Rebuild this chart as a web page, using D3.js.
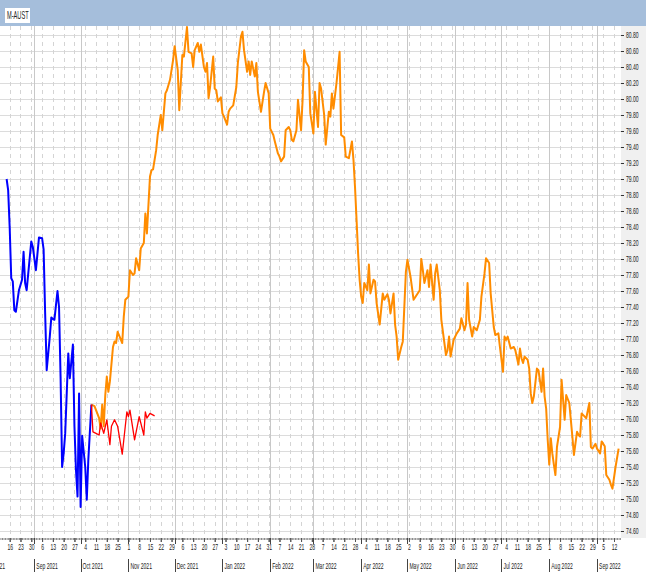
<!DOCTYPE html>
<html>
<head>
<meta charset="utf-8">
<script src="https://cdn.jsdelivr.net/npm/d3@7"></script>
<style>
body { margin: 0; background: #fff; }
svg text { font-family: "Liberation Sans", Arial, sans-serif; fill: #222; }
</style>
</head>
<body>
<script>
// Series: [date, value]
var title = "M-AUST";

var blueSeries = [
  ["2021-08-14", 79.00], ["2021-08-15", 78.86], ["2021-08-16", 78.39], ["2021-08-17", 77.76],
  ["2021-08-18", 77.72], ["2021-08-19", 77.36], ["2021-08-20", 77.34], ["2021-08-22", 77.61],
  ["2021-08-24", 77.74], ["2021-08-25", 78.09], ["2021-08-26", 77.70], ["2021-08-27", 77.61],
  ["2021-08-30", 78.22], ["2021-08-31", 78.15], ["2021-09-02", 77.86], ["2021-09-04", 78.27],
  ["2021-09-06", 78.26], ["2021-09-07", 78.12], ["2021-09-08", 77.32], ["2021-09-09", 76.61],
  ["2021-09-11", 77.03], ["2021-09-12", 77.27], ["2021-09-13", 77.25], ["2021-09-14", 77.24],
  ["2021-09-15", 77.42], ["2021-09-16", 77.60], ["2021-09-17", 77.40], ["2021-09-18", 76.53],
  ["2021-09-19", 75.40], ["2021-09-20", 75.57], ["2021-09-21", 75.82], ["2021-09-22", 76.32],
  ["2021-09-23", 76.82], ["2021-09-24", 76.51], ["2021-09-26", 76.93], ["2021-09-27", 75.91],
  ["2021-09-28", 75.36], ["2021-09-29", 75.03], ["2021-09-30", 76.32], ["2021-10-01", 74.90],
  ["2021-10-02", 75.79], ["2021-10-04", 75.40], ["2021-10-05", 74.99], ["2021-10-06", 75.49],
  ["2021-10-08", 76.18]
];

var redSeries = [
  ["2021-10-08", 76.18], ["2021-10-09", 75.84], ["2021-10-11", 75.82], ["2021-10-13", 75.80],
  ["2021-10-14", 75.95], ["2021-10-16", 75.82], ["2021-10-18", 75.99], ["2021-10-20", 75.68],
  ["2021-10-21", 75.91], ["2021-10-23", 75.99], ["2021-10-25", 75.91], ["2021-10-28", 75.56],
  ["2021-10-31", 76.09], ["2021-11-01", 76.03], ["2021-11-02", 76.11], ["2021-11-05", 75.74],
  ["2021-11-08", 76.03], ["2021-11-11", 75.80], ["2021-11-12", 76.09], ["2021-11-13", 76.01],
  ["2021-11-15", 76.07], ["2021-11-18", 76.04]
];

var orangeSeries = [
  ["2021-10-08", 76.18], ["2021-10-10", 76.16], ["2021-10-13", 76.01], ["2021-10-14", 75.88],
  ["2021-10-15", 76.18], ["2021-10-16", 75.91], ["2021-10-17", 76.30], ["2021-10-18", 76.53],
  ["2021-10-19", 76.34], ["2021-10-20", 76.47], ["2021-10-22", 76.90], ["2021-10-23", 76.97],
  ["2021-10-24", 76.95], ["2021-10-25", 77.09], ["2021-10-28", 76.95], ["2021-10-29", 77.28],
  ["2021-10-30", 77.49], ["2021-11-01", 77.53], ["2021-11-02", 77.86], ["2021-11-04", 77.80],
  ["2021-11-05", 77.82], ["2021-11-06", 78.01], ["2021-11-08", 77.86], ["2021-11-09", 78.13],
  ["2021-11-11", 78.20], ["2021-11-12", 78.57], ["2021-11-13", 78.32], ["2021-11-15", 79.03],
  ["2021-11-16", 79.11], ["2021-11-17", 79.12], ["2021-11-19", 79.36], ["2021-11-20", 79.55],
  ["2021-11-22", 79.80], ["2021-11-23", 79.61], ["2021-11-25", 80.07], ["2021-11-26", 80.11],
  ["2021-11-28", 80.24], ["2021-11-30", 80.49], ["2021-12-01", 80.66], ["2021-12-03", 80.36],
  ["2021-12-04", 79.86], ["2021-12-06", 80.55], ["2021-12-07", 80.53], ["2021-12-09", 80.90],
  ["2021-12-10", 80.59], ["2021-12-12", 80.57], ["2021-12-13", 80.40], ["2021-12-14", 80.61],
  ["2021-12-16", 80.70], ["2021-12-17", 80.59], ["2021-12-18", 80.68], ["2021-12-20", 80.40],
  ["2021-12-21", 80.34], ["2021-12-22", 80.45], ["2021-12-23", 80.01], ["2021-12-24", 80.15],
  ["2021-12-26", 80.53], ["2021-12-27", 80.13], ["2021-12-28", 80.11], ["2021-12-29", 79.97],
  ["2021-12-31", 80.02], ["2022-01-01", 79.82], ["2022-01-02", 79.78], ["2022-01-04", 79.68],
  ["2022-01-05", 79.84], ["2022-01-06", 79.88], ["2022-01-08", 79.92], ["2022-01-10", 80.15],
  ["2022-01-11", 80.45], ["2022-01-13", 80.78], ["2022-01-14", 80.84], ["2022-01-15", 80.61],
  ["2022-01-17", 80.34], ["2022-01-18", 80.47], ["2022-01-19", 80.30], ["2022-01-20", 80.47],
  ["2022-01-22", 80.28], ["2022-01-23", 80.45], ["2022-01-24", 80.09], ["2022-01-26", 79.84],
  ["2022-01-28", 80.09], ["2022-01-29", 80.20], ["2022-01-31", 80.07], ["2022-02-01", 79.63],
  ["2022-02-03", 79.55], ["2022-02-04", 79.47], ["2022-02-06", 79.32], ["2022-02-07", 79.28],
  ["2022-02-08", 79.22], ["2022-02-10", 79.28], ["2022-02-11", 79.61], ["2022-02-13", 79.65],
  ["2022-02-14", 79.61], ["2022-02-15", 79.49], ["2022-02-16", 79.47], ["2022-02-18", 79.61],
  ["2022-02-19", 79.99], ["2022-02-21", 79.61], ["2022-02-22", 79.99], ["2022-02-23", 80.61],
  ["2022-02-24", 80.47], ["2022-02-26", 80.40], ["2022-02-27", 79.82], ["2022-03-01", 79.57],
  ["2022-03-02", 80.09], ["2022-03-04", 79.65], ["2022-03-05", 80.20], ["2022-03-06", 80.13],
  ["2022-03-08", 79.80], ["2022-03-09", 79.43], ["2022-03-11", 79.84], ["2022-03-12", 79.78],
  ["2022-03-13", 80.07], ["2022-03-14", 79.88], ["2022-03-16", 80.20], ["2022-03-18", 80.59],
  ["2022-03-19", 79.55], ["2022-03-21", 79.52], ["2022-03-22", 79.28], ["2022-03-24", 79.26],
  ["2022-03-26", 79.47], ["2022-03-27", 79.24], ["2022-03-28", 78.90], ["2022-03-29", 78.49],
  ["2022-03-30", 78.07], ["2022-03-31", 77.74], ["2022-04-01", 77.53], ["2022-04-02", 77.45],
  ["2022-04-03", 77.70], ["2022-04-05", 77.61], ["2022-04-06", 77.93], ["2022-04-07", 77.57],
  ["2022-04-09", 77.74], ["2022-04-10", 77.72], ["2022-04-11", 77.45], ["2022-04-13", 77.18],
  ["2022-04-15", 77.57], ["2022-04-16", 77.49], ["2022-04-18", 77.56], ["2022-04-19", 77.49],
  ["2022-04-20", 77.32], ["2022-04-22", 77.57], ["2022-04-23", 77.18], ["2022-04-24", 77.03],
  ["2022-04-25", 76.74], ["2022-04-27", 76.90], ["2022-04-28", 76.97], ["2022-04-30", 77.84],
  ["2022-05-01", 77.99], ["2022-05-03", 77.78], ["2022-05-05", 77.49], ["2022-05-07", 77.55],
  ["2022-05-09", 77.61], ["2022-05-10", 78.00], ["2022-05-11", 77.86], ["2022-05-12", 77.70],
  ["2022-05-14", 77.86], ["2022-05-15", 77.65], ["2022-05-16", 77.93], ["2022-05-18", 77.49],
  ["2022-05-19", 77.82], ["2022-05-20", 77.93], ["2022-05-22", 77.61], ["2022-05-23", 77.24],
  ["2022-05-26", 76.80], ["2022-05-27", 76.86], ["2022-05-28", 77.03], ["2022-05-29", 76.78],
  ["2022-05-31", 76.99], ["2022-06-02", 77.07], ["2022-06-04", 77.13], ["2022-06-05", 77.26],
  ["2022-06-07", 77.11], ["2022-06-08", 77.18], ["2022-06-09", 77.70], ["2022-06-10", 77.24],
  ["2022-06-12", 77.03], ["2022-06-13", 77.15], ["2022-06-15", 77.11], ["2022-06-17", 77.24],
  ["2022-06-18", 77.53], ["2022-06-20", 77.82], ["2022-06-21", 78.01], ["2022-06-23", 77.95],
  ["2022-06-24", 77.57], ["2022-06-26", 77.15], ["2022-06-27", 77.05], ["2022-06-29", 77.07],
  ["2022-06-30", 76.90], ["2022-07-02", 76.59], ["2022-07-03", 77.03], ["2022-07-04", 76.99],
  ["2022-07-05", 77.03], ["2022-07-07", 76.88], ["2022-07-09", 76.90], ["2022-07-10", 76.86],
  ["2022-07-12", 76.68], ["2022-07-13", 76.88], ["2022-07-14", 76.76], ["2022-07-15", 76.70],
  ["2022-07-16", 76.78], ["2022-07-18", 76.74], ["2022-07-19", 76.63], ["2022-07-20", 76.32],
  ["2022-07-21", 76.20], ["2022-07-22", 76.28], ["2022-07-24", 76.63], ["2022-07-25", 76.61],
  ["2022-07-27", 76.34], ["2022-07-28", 76.63], ["2022-07-29", 76.28], ["2022-07-30", 76.13],
  ["2022-07-31", 75.74], ["2022-08-01", 75.43], ["2022-08-02", 75.76], ["2022-08-03", 75.57],
  ["2022-08-04", 75.43], ["2022-08-05", 75.30], ["2022-08-06", 75.65], ["2022-08-08", 75.90],
  ["2022-08-09", 76.49], ["2022-08-11", 75.99], ["2022-08-12", 76.30], ["2022-08-14", 76.20],
  ["2022-08-15", 75.99], ["2022-08-16", 75.78], ["2022-08-17", 75.55], ["2022-08-19", 75.84],
  ["2022-08-20", 75.80], ["2022-08-21", 75.78], ["2022-08-22", 76.07], ["2022-08-24", 76.03],
  ["2022-08-25", 76.01], ["2022-08-27", 76.20], ["2022-08-28", 75.65], ["2022-08-29", 75.63],
  ["2022-08-31", 75.69], ["2022-09-01", 75.63], ["2022-09-03", 75.57], ["2022-09-04", 75.72],
  ["2022-09-06", 75.66], ["2022-09-07", 75.30], ["2022-09-09", 75.24], ["2022-09-10", 75.18],
  ["2022-09-11", 75.13], ["2022-09-13", 75.40], ["2022-09-15", 75.63]
];

var yTickValues = d3.range(74.6, 80.81, 0.2);

// Layout
var w = 646, h = 572;
var plotL = 0, plotR = 621, plotT = 26, plotB = 538;
var sx = 0.56; // narrow text

var parse = d3.timeParse("%Y-%m-%d");

var xScale = d3.scaleTime()
  .domain([parse("2021-08-16"), parse("2022-09-12")])
  .range([9.7, 614]);

var yScale = d3.scaleLinear()
  .domain([74.5125, 80.9125])
  .range([plotB, plotT]);

var svg = d3.select("body").append("svg")
  .attr("width", w)
  .attr("height", h);

svg.append("defs").append("clipPath").attr("id", "plotclip")
  .append("rect")
  .attr("x", plotL).attr("y", plotT)
  .attr("width", plotR - plotL).attr("height", plotB - plotT);

svg.append("defs").append("clipPath").attr("id", "axisclip")
  .append("rect")
  .attr("x", 0).attr("y", plotB)
  .attr("width", plotR).attr("height", h - plotB);

// Right axis panel
svg.append("rect")
  .attr("x", plotR).attr("y", plotT)
  .attr("width", w - plotR).attr("height", plotB - plotT)
  .attr("fill", "#f0f0f0");

// Grid
var x0 = parse("2021-08-01"), x1 = parse("2022-10-01");
var months = d3.timeMonth.range(x0, x1);
var mondays = d3.timeMonday.range(parse("2021-08-09"), parse("2022-09-20"));
var labelMondays = d3.timeMonday.range(parse("2021-08-16"), parse("2022-09-13"));
var days = d3.timeDay.range(parse("2021-08-08"), parse("2022-09-20"));

var grid = svg.append("g").attr("clip-path", "url(#plotclip)");

grid.selectAll("line.hgrid")
  .data(yTickValues)
  .enter().append("line")
  .attr("class", "hgrid")
  .attr("x1", plotL).attr("x2", plotR)
  .attr("y1", function(d) { return Math.round(yScale(d)) + 0.5; })
  .attr("y2", function(d) { return Math.round(yScale(d)) + 0.5; })
  .attr("stroke", "#dcdcdc")
  .attr("stroke-width", 1.2);

grid.selectAll("line.wgrid")
  .data(mondays)
  .enter().append("line")
  .attr("class", "wgrid")
  .attr("x1", function(d) { return Math.round(xScale(d)) + 0.5; })
  .attr("x2", function(d) { return Math.round(xScale(d)) + 0.5; })
  .attr("y1", plotT).attr("y2", plotB)
  .attr("stroke", "#d4d4d4")
  .attr("stroke-dasharray", "4,4");

grid.selectAll("line.mgrid")
  .data(months)
  .enter().append("line")
  .attr("class", "mgrid")
  .attr("x1", function(d) { return Math.round(xScale(d)) + 0.5; })
  .attr("x2", function(d) { return Math.round(xScale(d)) + 0.5; })
  .attr("y1", plotT).attr("y2", plotB)
  .attr("stroke", "#c8c8c8");

// Lines
var line = d3.line()
  .x(function(d) { return xScale(parse(d[0])); })
  .y(function(d) { return yScale(d[1]); });

var lines = svg.append("g").attr("clip-path", "url(#plotclip)");

lines.append("path").datum(orangeSeries)
  .attr("d", line).attr("fill", "none")
  .attr("stroke", "#ff8c00").attr("stroke-width", 2)
  .attr("stroke-linejoin", "round");

lines.append("path").datum(blueSeries)
  .attr("d", line).attr("fill", "none")
  .attr("stroke", "#0000ff").attr("stroke-width", 2)
  .attr("stroke-linejoin", "round");

lines.append("path").datum(redSeries)
  .attr("d", line).attr("fill", "none")
  .attr("stroke", "#ff0000").attr("stroke-width", 1.3)
  .attr("stroke-linejoin", "round");

// Right axis
var yAxis = svg.append("g")
  .attr("transform", "translate(" + plotR + ",0)")
  .call(d3.axisRight(yScale).tickValues(yTickValues).tickSize(3).tickFormat(d3.format(".2f")));
yAxis.select(".domain").remove();
yAxis.selectAll(".tick line").attr("stroke", "#333");
yAxis.selectAll(".tick text")
  .attr("x", 5 / sx)
  .attr("transform", "scale(" + sx + ",1)")
  .style("font-size", "9px");

// Bottom axis
var xAxisG = svg.append("g").attr("clip-path", "url(#axisclip)");

var dayAxis = xAxisG.append("g")
  .attr("transform", "translate(0," + plotB + ")")
  .call(d3.axisBottom(xScale).tickValues(days).tickSize(2).tickFormat(""));
dayAxis.select(".domain").remove();
dayAxis.selectAll(".tick line").attr("stroke", "#888");

var weekTicks = xAxisG.append("g")
  .attr("transform", "translate(0," + plotB + ")")
  .call(d3.axisBottom(xScale).tickValues(mondays).tickSize(4).tickFormat(""));
weekTicks.select(".domain").remove();
weekTicks.selectAll(".tick line").attr("stroke", "#555");

var weekAxis = xAxisG.append("g")
  .attr("transform", "translate(0," + plotB + ")")
  .call(d3.axisBottom(xScale).tickValues(labelMondays).tickSize(4).tickPadding(2).tickFormat(d3.timeFormat("%-d")));
weekAxis.select(".domain").remove();
weekAxis.selectAll(".tick line").attr("stroke", "#555");
weekAxis.selectAll(".tick text")
  .attr("transform", "scale(" + sx + ",1)")
  .style("font-size", "9px");

var monthG = xAxisG.append("g");
monthG.selectAll("line.msep")
  .data(months)
  .enter().append("line")
  .attr("x1", function(d) { return Math.round(xScale(d)) + 0.5; })
  .attr("x2", function(d) { return Math.round(xScale(d)) + 0.5; })
  .attr("y1", plotB).attr("y2", plotB + 6)
  .attr("stroke", "#444");
monthG.selectAll("line.msep2")
  .data(months)
  .enter().append("line")
  .attr("x1", function(d) { return Math.round(xScale(d)) + 0.5; })
  .attr("x2", function(d) { return Math.round(xScale(d)) + 0.5; })
  .attr("y1", plotB + 21).attr("y2", h)
  .attr("stroke", "#444");
monthG.selectAll("text")
  .data(months)
  .enter().append("text")
  .attr("text-anchor", function(d) { return xScale(d) < 0 ? "end" : "start"; })
  .attr("transform", function(d) {
    var tx = xScale(d) < 0 ? 5 : xScale(d) + 2;
    return "translate(" + tx + "," + (plotB + 31) + ") scale(" + sx + ",1)";
  })
  .style("font-size", "9px")
  .text(d3.timeFormat("%b %Y"));

// Title bar
svg.append("rect")
  .attr("x", 0).attr("y", 0)
  .attr("width", w).attr("height", plotT)
  .attr("fill", "#a5bedb");
svg.append("rect")
  .attr("x", 5).attr("y", 8)
  .attr("width", 25).attr("height", 15)
  .attr("fill", "#fff");
svg.append("text")
  .attr("transform", "translate(7,19) scale(0.54,1)")
  .style("font-size", "10.5px")
  .text(title);
</script>
</body>
</html>
